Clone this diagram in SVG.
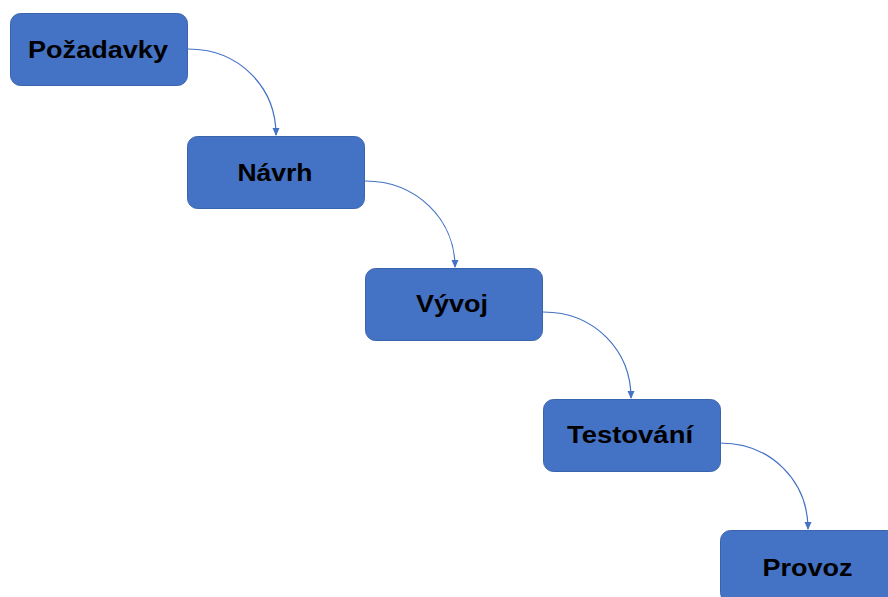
<svg xmlns="http://www.w3.org/2000/svg" width="888" height="597" viewBox="0 0 888 597">
<style>
.box{fill:#4472C4;stroke:#3A63AD;stroke-width:1}
.lbl{font-family:"Liberation Sans",Arial,sans-serif;font-weight:bold;font-size:23px;fill:#000;text-anchor:middle}
.con{fill:none;stroke:#4472C4;stroke-width:1.2}
</style>
<defs>
<marker id="ah" markerWidth="8" markerHeight="8" refX="7" refY="4" orient="auto" markerUnits="userSpaceOnUse">
<path d="M0,0.5 L8,4 L0,7.5 Z" fill="#4472C4"/>
</marker>
</defs>
<rect width="888" height="597" fill="#fff"/>
<g id="connectors">
<path class="con" d="M188,49 C240,49 276,88 276,135" marker-end="url(#ah)"/>
<path class="con" d="M365,181 C417,181 455,220 455,267" marker-end="url(#ah)"/>
<path class="con" d="M543,312 C595,312 631,351 631,398" marker-end="url(#ah)"/>
<path class="con" d="M720,443 C772,443 808,482 808,529" marker-end="url(#ah)"/>
</g>
<g id="n1"><rect class="box" x="10.5" y="13.5" width="177" height="72" rx="10"/><text class="lbl" x="98" y="57.5" textLength="140" lengthAdjust="spacingAndGlyphs">Požadavky</text></g>
<g id="n2"><rect class="box" x="187.5" y="136.5" width="177" height="72" rx="10"/><text class="lbl" x="275" y="180.5" textLength="75" lengthAdjust="spacingAndGlyphs">Návrh</text></g>
<g id="n3"><rect class="box" x="365.5" y="268.5" width="177" height="72" rx="10"/><text class="lbl" x="452" y="312" textLength="72" lengthAdjust="spacingAndGlyphs">Vývoj</text></g>
<g id="n4"><rect class="box" x="543.5" y="399.5" width="177" height="72" rx="10"/><text class="lbl" x="630" y="443" textLength="126" lengthAdjust="spacingAndGlyphs">Testování</text></g>
<g id="n5"><rect class="box" x="720.5" y="530.5" width="177" height="72" rx="10"/><text class="lbl" x="807.5" y="575.5" textLength="90" lengthAdjust="spacingAndGlyphs">Provoz</text></g>
</svg>
